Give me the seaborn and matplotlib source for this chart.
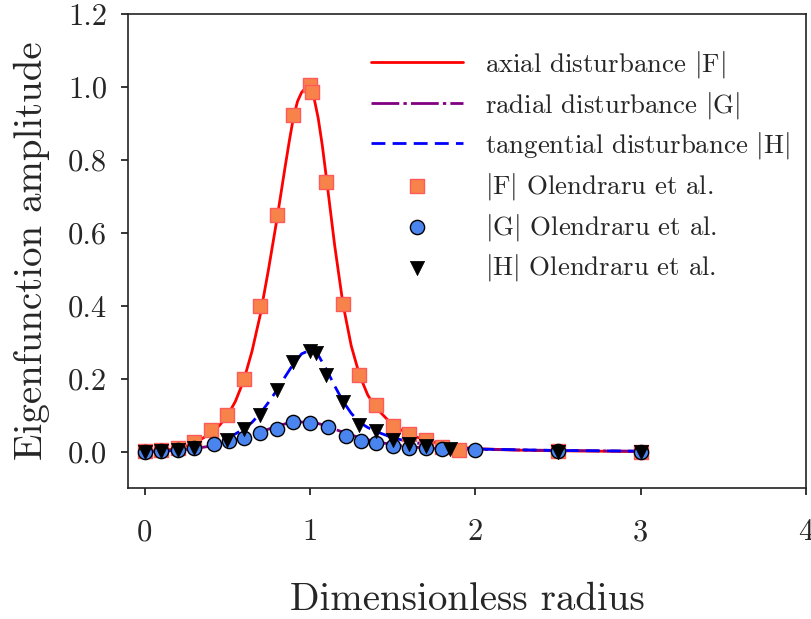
import numpy as np
import pandas as pd
import matplotlib
matplotlib.use("Agg")
import matplotlib.pyplot as plt
import seaborn as sns

# ---- data ----
# computed eigenfunction curves
r_F = [0.0, 0.1, 0.2, 0.3, 0.4, 0.45, 0.5, 0.55, 0.6, 0.65, 0.7, 0.75, 0.8, 0.85, 0.875, 0.9,
       0.925, 0.95, 0.975, 1.0, 1.025, 1.05, 1.075, 1.1, 1.15, 1.2, 1.25, 1.3, 1.35,
       1.4, 1.5, 1.6, 1.7, 1.8, 1.9, 2.0, 2.25, 2.5, 2.75, 3.0]
F_line = [0.0, 0.003, 0.008, 0.022, 0.05, 0.07, 0.097, 0.138, 0.195, 0.275, 0.375, 0.50, 0.635,
          0.78, 0.85, 0.915, 0.96, 0.985, 0.998, 0.997, 0.97, 0.915, 0.84, 0.75, 0.565,
          0.405, 0.29, 0.21, 0.155, 0.12, 0.073, 0.047, 0.031, 0.02, 0.013, 0.008,
          0.004, 0.002, 0.001, 0.0]

r_G = [0.0, 0.1, 0.2, 0.3, 0.4, 0.5, 0.6, 0.7, 0.8, 0.85, 0.9, 0.95, 1.0, 1.05, 1.1,
       1.2, 1.3, 1.4, 1.5, 1.6, 1.7, 1.8, 2.0, 2.5, 3.0]
G_line = [0.0, 0.002, 0.004, 0.008, 0.015, 0.025, 0.038, 0.054, 0.069, 0.076, 0.080,
          0.081, 0.080, 0.077, 0.070, 0.053, 0.038, 0.027, 0.019, 0.013, 0.010, 0.008,
          0.006, 0.003, 0.001]

r_H = [0.0, 0.1, 0.2, 0.3, 0.4, 0.5, 0.6, 0.65, 0.7, 0.75, 0.8, 0.85, 0.9, 0.95, 1.0,
       1.05, 1.1, 1.15, 1.2, 1.25, 1.3, 1.35, 1.4, 1.5, 1.6, 1.7, 1.8, 1.9, 2.0, 2.5, 3.0]
H_line = [0.0, 0.001, 0.003, 0.008, 0.018, 0.035, 0.062, 0.08, 0.105, 0.135, 0.168,
          0.205, 0.24, 0.268, 0.278, 0.265, 0.225, 0.18, 0.138, 0.105, 0.08, 0.066,
          0.055, 0.038, 0.027, 0.02, 0.014, 0.01, 0.007, 0.003, 0.001]

# reference data (Olendraru et al.)
r_F_ref = [0.0, 0.1, 0.2, 0.3, 0.4, 0.5, 0.6, 0.7, 0.8, 0.9, 1.0, 1.01, 1.1, 1.2, 1.3,
           1.4, 1.5, 1.6, 1.7, 1.8, 1.9, 2.5, 3.0]
F_ref = [0.002, 0.005, 0.01, 0.027, 0.06, 0.1, 0.2, 0.4, 0.65, 0.924, 1.005, 0.985,
         0.74, 0.405, 0.21, 0.128, 0.071, 0.048, 0.033, 0.012, 0.005, 0.001, 0.0]

r_G_ref = [0.0, 0.1, 0.2, 0.3, 0.42, 0.51, 0.6, 0.7, 0.8, 0.9, 1.0, 1.11, 1.22, 1.31,
           1.4, 1.5, 1.6, 1.7, 1.8, 2.0, 2.5, 3.0]
G_ref = [0.0, 0.002, 0.005, 0.01, 0.02, 0.028, 0.036, 0.051, 0.062, 0.081, 0.079, 0.068,
         0.043, 0.03, 0.024, 0.015, 0.01, 0.01, 0.007, 0.005, 0.001, 0.0]

r_H_ref = [0.0, 0.1, 0.2, 0.3, 0.5, 0.6, 0.7, 0.8, 0.9, 1.0, 1.04, 1.1, 1.2, 1.3, 1.4,
           1.5, 1.6, 1.7, 1.85, 2.5, 3.0]
H_ref = [0.0, 0.001, 0.003, 0.01, 0.033, 0.062, 0.1, 0.168, 0.246, 0.276, 0.269, 0.21,
         0.137, 0.072, 0.056, 0.033, 0.022, 0.015, 0.008, 0.0, 0.0]

labels = [r"axial disturbance $|\mathrm{F}|$",
          r"radial disturbance $|\mathrm{G}|$",
          r"tangential disturbance $|\mathrm{H}|$",
          r"$|\mathrm{F}|$ Olendraru et al.",
          r"$|\mathrm{G}|$ Olendraru et al.",
          r"$|\mathrm{H}|$ Olendraru et al."]
xticks = [0, 1, 2, 3, 4]
yticks = [0.0, 0.2, 0.4, 0.6, 0.8, 1.0, 1.2]

# ---- style ----
sns.set_theme(style="ticks")
plt.rcParams["font.family"] = "serif"
plt.rcParams["font.serif"] = ["cmr10"]
plt.rcParams["mathtext.fontset"] = "cm"
plt.rcParams["axes.formatter.use_mathtext"] = True
plt.rcParams["axes.unicode_minus"] = False

fig = plt.figure(figsize=(8.12, 6.19), dpi=100)
ax = fig.add_axes([0.1576, 0.2116, 0.835, 0.7658])

lw = 2.0
sns.lineplot(x=r_F, y=F_line, ax=ax, color="red", lw=lw, label=labels[0], zorder=2)
sns.lineplot(x=r_G, y=G_line, ax=ax, color="purple", lw=lw, label=labels[1], zorder=2)
sns.lineplot(x=r_H, y=H_line, ax=ax, color="blue", lw=lw, label=labels[2], zorder=2)
ax.lines[0].set_linestyle("-")
ax.lines[1].set_linestyle((0, (10, 1.5, 1.2, 1.5)))
ax.lines[2].set_linestyle((0, (5, 2.6)))

sns.scatterplot(x=r_F_ref, y=F_ref, ax=ax, marker="s", s=95, color="#f7824a",
                edgecolor="#ff5a5a", linewidth=1.0, label=labels[3], zorder=3)
sns.scatterplot(x=r_G_ref, y=G_ref, ax=ax, marker="o", s=105, color="#4a84ee",
                edgecolor="black", linewidth=1.0, label=labels[4], zorder=4)
sns.scatterplot(x=r_H_ref, y=H_ref, ax=ax, marker="v", s=105, color="black",
                edgecolor="black", linewidth=0.5, label=labels[5], zorder=5)

ax.set_xlim(-0.1, 4.0)
ax.set_ylim(-0.1, 1.2)
ax.set_xticks(xticks)
ax.set_yticks(yticks)
ax.set_xticklabels([str(t) for t in xticks])
ax.set_yticklabels([f"{t:.1f}" for t in yticks])
ax.tick_params(axis="both", labelsize=22, length=5, width=1.1, color="black")
ax.tick_params(axis="x", pad=17)
ax.tick_params(axis="y", pad=10)
for sp in ax.spines.values():
    sp.set_visible(True)
    sp.set_linewidth(1.2)
    sp.set_color("#222222")

ax.set_xlabel("Dimensionless radius", fontsize=28, labelpad=26)
ax.set_ylabel("Eigenfunction amplitude", fontsize=28, labelpad=13)

leg = ax.legend(loc="upper right", frameon=False, fontsize=19.3, handlelength=3.45,
                labelspacing=0.36, borderaxespad=0.2, handletextpad=0.82,
                bbox_to_anchor=(1.0, 0.96))

fig.savefig("out.png", dpi=100)
